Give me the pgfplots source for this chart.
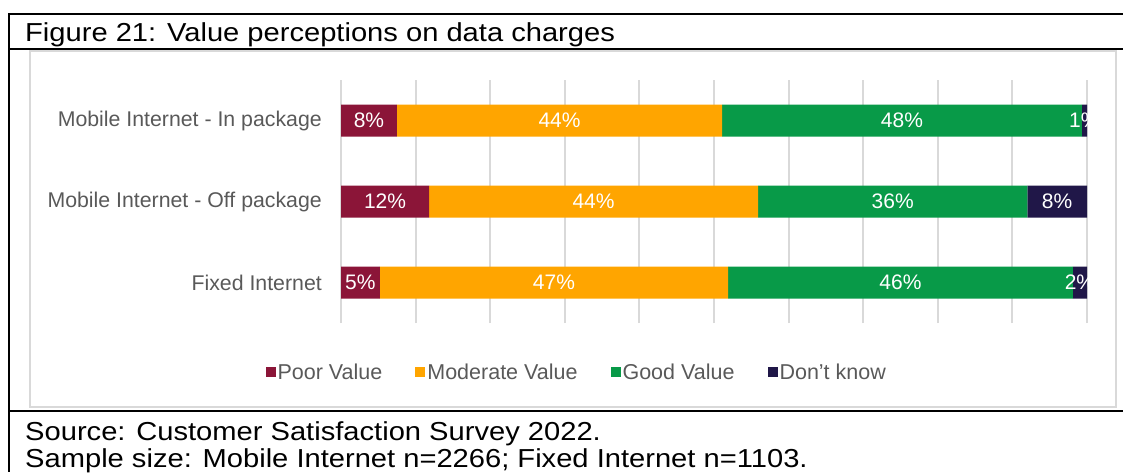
\documentclass[border=0pt]{standalone}
\usepackage{pgfplots}
\pgfplotsset{compat=1.18}
\usepackage{pgfplotstable}
\usepackage{fontspec}
\setmainfont{Liberation Sans}
\newfontfamily\capfont{Liberation Sans}[FakeStretch=1.12]
\definecolor{poorc}{RGB}{139,21,56}
\definecolor{modc}{RGB}{255,165,0}
\definecolor{goodc}{RGB}{8,154,72}
\definecolor{dkc}{RGB}{32,23,72}
\definecolor{gridc}{RGB}{217,217,217}
\definecolor{txtc}{RGB}{89,89,89}

\pgfplotstableread{
y v
0 5.2
1 11.8
2 7.5
}\poor
\pgfplotstableread{
y v
0 46.7
1 44.1
2 43.6
}\moderate
\pgfplotstableread{
y v
0 46.2
1 36.1
2 48.2
}\good
\pgfplotstableread{
y v
0 1.9
1 8.0
2 0.7
}\dontknow

\begin{document}
\begin{tikzpicture}[x=1pt,y=1pt]
\useasboundingbox (0,0) rectangle (1123,-472);
% frame
\draw[gridc, line width=1.5pt] (30,-51) rectangle (1116,-407);
\draw[line width=2pt] (8,-14) -- (1123,-14);
\draw[line width=2pt] (9,-13) -- (9,-472);
\draw[line width=2pt] (8,-49) -- (1123,-49);
\draw[line width=2pt] (8,-411) -- (1123,-411);
\node[anchor=base west, inner sep=0pt, font=\capfont\fontsize{26}{30}\selectfont] at (25,-41) {Figure 21: Value perceptions on data charges};
\node[anchor=base west, inner sep=0pt, font=\capfont\fontsize{26}{30}\selectfont] at (25,-440) {Source: Customer Satisfaction Survey 2022.};
\node[anchor=base west, inner sep=0pt, font=\capfont\fontsize{26}{30}\selectfont] at (25,-467) {Sample size: Mobile Internet n=2266; Fixed Internet n=1103.};

\begin{axis}[
  at={(341pt,-323pt)}, anchor=south west,
  scale only axis, width=746pt, height=243pt,
  xbar stacked, bar width=32pt,
  xmin=0, xmax=100, ymin=-0.5, ymax=2.5,
  ytick={0,1,2},
  yticklabels={Fixed Internet, Mobile Internet - Off package, Mobile Internet - In package},
  xtick={0,10,...,100}, xticklabels={},
  xmajorgrids, major grid style={line width=2pt, gridc},
  axis line style={draw=none}, tick style={draw=none},
  yticklabel style={font=\fontsize{21.3}{24}\selectfont, text=txtc, inner sep=0pt, xshift=-19pt},
  point meta=explicit,
  nodes near coords={\pgfmathprintnumber[fixed,precision=0,assume math mode=true]{\pgfplotspointmeta}\%},
  every node near coord/.append style={anchor=center, text=white, font=\fontsize{21}{24}\selectfont},
  legend columns=4,
  legend style={at={(0.316,-0.2016)}, anchor=center, draw=none, fill=none,
    font=\fontsize{21.5}{24}\selectfont, text=txtc,
    /tikz/every even column/.append style={column sep=31pt}},
  legend image code/.code={\fill[#1] (0pt,-5pt) rectangle (10pt,5pt);},
]
\addplot[fill=poorc, draw=none] table[x=v,y=y,meta=v] {\poor};
\addplot[fill=modc, draw=none] table[x=v,y=y,meta=v] {\moderate};
\addplot[fill=goodc, draw=none] table[x=v,y=y,meta=v] {\good};
\addplot[fill=dkc, draw=none] table[x=v,y=y,meta=v] {\dontknow};
\legend{Poor Value, Moderate Value, Good Value, Don’t know}
\end{axis}
\end{tikzpicture}
\end{document}
